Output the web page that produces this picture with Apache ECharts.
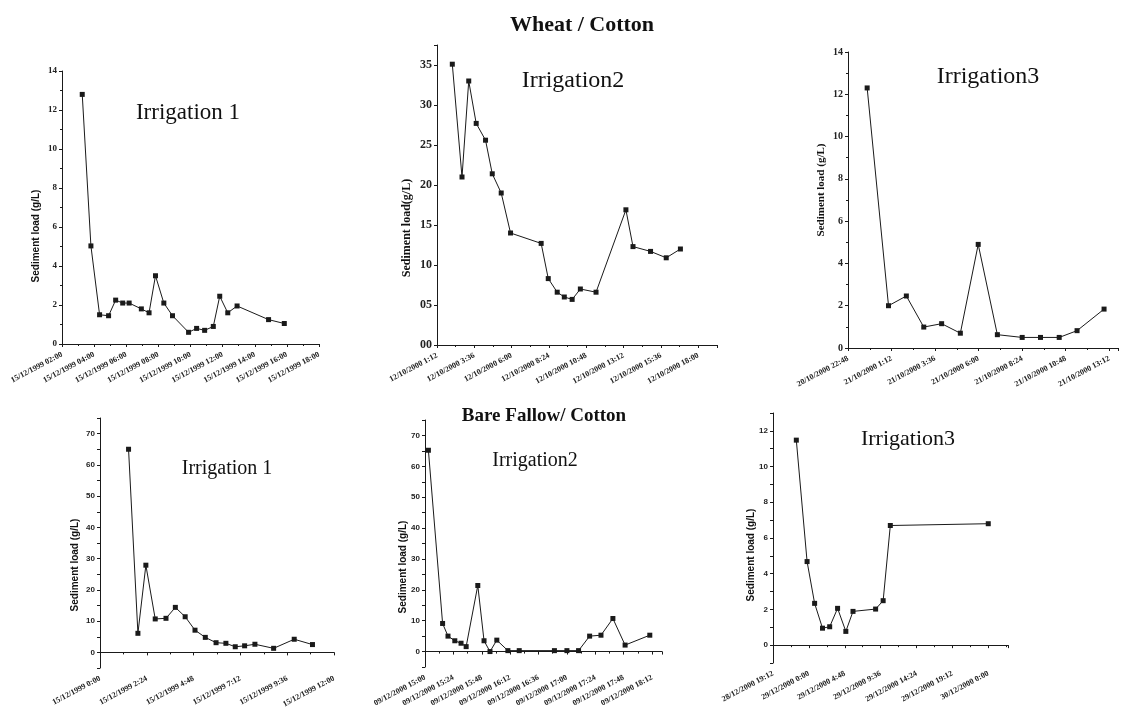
<!DOCTYPE html>
<html>
<head>
<meta charset="utf-8">
<script src="https://cdn.jsdelivr.net/npm/echarts@6/dist/echarts.min.js"></script>
<style>
  html, body { margin: 0; padding: 0; background: #fff; }
  #chart { width: 1123px; height: 724px; }
</style>
</head>
<body>
<div id="chart"></div>
<script>
// Wheat / Cotton - Irrigation 1
var p1X = [0.63, 0.90, 1.17, 1.45, 1.67, 1.89, 2.09, 2.47, 2.71, 2.91, 3.17, 3.44, 3.94, 4.19, 4.44, 4.71, 4.91, 5.16, 5.45, 6.43, 6.92];
var p1Y = [12.8, 5.03, 1.5, 1.45, 2.25, 2.1, 2.1, 1.8, 1.6, 3.5, 2.1, 1.45, 0.6, 0.8, 0.7, 0.9, 2.45, 1.6, 1.95, 1.25, 1.05];
var p1Ticks = ['15/12/1999 02:00', '15/12/1999 04:00', '15/12/1999 06:00', '15/12/1999 08:00', '15/12/1999 10:00',
  '15/12/1999 12:00', '15/12/1999 14:00', '15/12/1999 16:00', '15/12/1999 18:00'];

// Wheat / Cotton - Irrigation 2
var p2X = [0.41, 0.67, 0.85, 1.05, 1.30, 1.48, 1.72, 1.97, 2.79, 2.98, 3.22, 3.41, 3.62, 3.84, 4.26, 5.06, 5.25, 5.72, 6.14, 6.52];
var p2Y = [35.1, 21.0, 33.0, 27.7, 25.6, 21.4, 19.0, 14.0, 12.7, 8.3, 6.6, 6.0, 5.7, 7.0, 6.6, 16.9, 12.3, 11.7, 10.9, 12.0];
var p2Ticks = ['12/10/2000 1:12', '12/10/2000 3:36', '12/10/2000 6:00', '12/10/2000 8:24', '12/10/2000 10:48',
  '12/10/2000 13:12', '12/10/2000 15:36', '12/10/2000 18:00'];

// Wheat / Cotton - Irrigation 3
var p3X = [0.44, 0.93, 1.34, 1.74, 2.15, 2.58, 2.99, 3.43, 4.0, 4.42, 4.85, 5.26, 5.88];
var p3Y = [12.3, 2.0, 2.46, 0.99, 1.15, 0.7, 4.9, 0.63, 0.5, 0.5, 0.5, 0.82, 1.84];
var p3Ticks = ['20/10/2000 22:48', '21/10/2000 1:12', '21/10/2000 3:36', '21/10/2000 6:00', '21/10/2000 8:24',
  '21/10/2000 10:48', '21/10/2000 13:12'];

// Bare Fallow / Cotton - Irrigation 1
var p4X = [0.61, 0.81, 0.98, 1.18, 1.41, 1.61, 1.82, 2.03, 2.25, 2.48, 2.69, 2.89, 3.09, 3.31, 3.71, 4.15, 4.54];
var p4Y = [65.0, 6.1, 27.9, 10.7, 10.9, 14.4, 11.4, 7.1, 4.8, 3.1, 2.9, 1.8, 2.1, 2.6, 1.3, 4.2, 2.5];
var p4Ticks = ['15/12/1999 0:00', '15/12/1999 2:24', '15/12/1999 4:48', '15/12/1999 7:12', '15/12/1999 9:36', '15/12/1999 12:00'];

// Bare Fallow / Cotton - Irrigation 2
var p5X = [0.12, 0.62, 0.81, 1.05, 1.27, 1.45, 1.86, 2.08, 2.29, 2.53, 2.92, 3.32, 4.56, 5.0, 5.41, 5.8, 6.2, 6.62, 7.05, 7.92];
var p5Y = [65.2, 9.1, 5.0, 3.5, 2.7, 1.6, 21.4, 3.5, 0, 3.7, 0.3, 0.3, 0.3, 0.3, 0.3, 5.0, 5.3, 10.7, 2.1, 5.3];
var p5Ticks = ['09/12/2000 15:00', '09/12/2000 15:24', '09/12/2000 15:48', '09/12/2000 16:12', '09/12/2000 16:36',
  '09/12/2000 17:00', '09/12/2000 17:24', '09/12/2000 17:48', '09/12/2000 18:12'];

// Bare Fallow / Cotton - Irrigation 3
var p6X = [0.65, 0.95, 1.16, 1.38, 1.58, 1.80, 2.03, 2.23, 2.86, 3.07, 3.27, 6.0];
var p6Y = [11.48, 4.68, 2.34, 0.95, 1.03, 2.06, 0.77, 1.89, 2.02, 2.49, 6.7, 6.8];
var p6Ticks = ['28/12/2000 19:12', '29/12/2000 0:00', '29/12/2000 4:48', '29/12/2000 9:36', '29/12/2000 14:24',
  '29/12/2000 19:12', '30/12/2000 0:00'];

var ink = '#1a1a1a';
var serif = 'Liberation Serif';

var panels = [
  { xs: p1X, ys: p1Y, ticks: p1Ticks, grid: [62, 71, 257, 273], xMax: 8, yMin: 0, yMax: 14, yStep: 2, labelEvery: 2,
    yFont: { size: 9, family: serif }, minor: true, twoDigit: false },
  { xs: p2X, ys: p2Y, ticks: p2Ticks, grid: [437, 45, 280, 300], xMax: 7.5, yMin: 0, yMax: 37.5, yStep: 5, labelEvery: 5,
    yFont: { size: 12, family: serif }, minor: false, twoDigit: true },
  { xs: p3X, ys: p3Y, ticks: p3Ticks, grid: [848, 52, 270, 296], xMax: 6.2, yMin: 0, yMax: 14, yStep: 2, labelEvery: 2,
    yFont: { size: 10, family: serif }, minor: true, twoDigit: false },
  { xs: p4X, ys: p4Y, ticks: p4Ticks, grid: [100, 418, 234, 250], xMax: 5, yMin: -5, yMax: 75, yStep: 5, labelEvery: 10,
    yFont: { size: 8, family: 'Liberation Sans' }, minor: false, twoDigit: false },
  { xs: p5X, ys: p5Y, ticks: p5Ticks, grid: [425, 420, 237, 247], xMax: 8.35, yMin: -5, yMax: 75, yStep: 5, labelEvery: 10,
    yFont: { size: 8, family: 'Liberation Sans' }, minor: false, twoDigit: false },
  { xs: p6X, ys: p6Y, ticks: p6Ticks, grid: [773, 413, 235, 250], xMax: 6.55, yMin: -1, yMax: 13, yStep: 1, labelEvery: 2,
    yFont: { size: 8, family: 'Liberation Sans' }, minor: false, twoDigit: false }
];

var grids = [], xAxes = [], yAxes = [], series = [];
panels.forEach(function (p, i) {
  grids.push({ left: p.grid[0], top: p.grid[1], width: p.grid[2], height: p.grid[3], containLabel: false });
  xAxes.push({
    type: 'value', gridIndex: i, min: 0, max: p.xMax, interval: 1,
    splitLine: { show: false },
    axisLine: { lineStyle: { color: ink, width: 1 } },
    axisTick: { length: 3, lineStyle: { color: ink } },
    minorTick: { show: true, splitNumber: 2, length: 2, lineStyle: { color: ink } },
    axisLabel: {
      rotate: 28, margin: 10, fontSize: 8, fontFamily: serif, fontWeight: 'bold', color: '#222',
      formatter: function (v) {
        return (Number.isInteger(v) && p.ticks[v] !== undefined) ? p.ticks[v] : '';
      }
    }
  });
  yAxes.push({
    type: 'value', gridIndex: i, min: p.yMin, max: p.yMax, interval: p.yStep,
    splitLine: { show: false },
    axisLine: { show: true, lineStyle: { color: ink, width: 1 } },
    axisTick: { show: true, length: 3, lineStyle: { color: ink } },
    minorTick: { show: p.minor, splitNumber: 2, length: 2, lineStyle: { color: ink } },
    axisLabel: {
      margin: 5, fontSize: p.yFont.size, fontFamily: p.yFont.family, fontWeight: 'bold', color: '#222',
      formatter: function (v) {
        if (Math.abs(v % p.labelEvery) > 1e-9 || v < 0) return '';
        return p.twoDigit && v < 10 ? '0' + v : String(v);
      }
    }
  });
  series.push({
    type: 'line', xAxisIndex: i, yAxisIndex: i,
    data: p.xs.map(function (x, k) { return [x, p.ys[k]]; }),
    symbol: 'rect', symbolSize: 5, showSymbol: true,
    lineStyle: { color: ink, width: 1 },
    itemStyle: { color: ink },
    animation: false
  });
});

function label(text, x, y, size, opts) {
  opts = opts || {};
  return {
    type: 'text', x: x, y: y, rotation: opts.rotation || 0,
    style: {
      text: text, fill: opts.fill || '#111',
      font: (opts.weight || 'normal') + ' ' + size + 'px "' + (opts.family || serif) + '"',
      align: 'center', verticalAlign: 'middle'
    }
  };
}

var yName = 'Sediment load (g/L)';
var graphics = [
  label('Wheat / Cotton', 582, 25, 22, { weight: 'bold' }),
  label('Bare Fallow/ Cotton', 544, 416, 19, { weight: 'bold' }),
  label('Irrigation 1', 188, 113, 23),
  label('Irrigation2', 573, 81, 24),
  label('Irrigation3', 988, 77, 24),
  label('Irrigation 1', 227, 469, 20),
  label('Irrigation2', 535, 461, 20),
  label('Irrigation3', 908, 439, 22),
  label(yName, 36, 236, 10, { rotation: Math.PI / 2, family: 'Liberation Sans', weight: 'bold' }),
  label('Sediment load(g/L)', 407, 228, 12, { rotation: Math.PI / 2, family: serif, weight: 'bold' }),
  label(yName, 821, 190, 11, { rotation: Math.PI / 2, family: serif, weight: 'bold' }),
  label(yName, 75, 565, 10, { rotation: Math.PI / 2, family: 'Liberation Sans', weight: 'bold' }),
  label(yName, 403, 567, 10, { rotation: Math.PI / 2, family: 'Liberation Sans', weight: 'bold' }),
  label(yName, 751, 555, 10, { rotation: Math.PI / 2, family: 'Liberation Sans', weight: 'bold' })
];

var myChart = echarts.init(document.getElementById('chart'), null, { renderer: 'canvas' });
myChart.setOption({
  backgroundColor: '#fff',
  animation: false,
  grid: grids,
  xAxis: xAxes,
  yAxis: yAxes,
  series: series,
  graphic: graphics
});
</script>
</body>
</html>
